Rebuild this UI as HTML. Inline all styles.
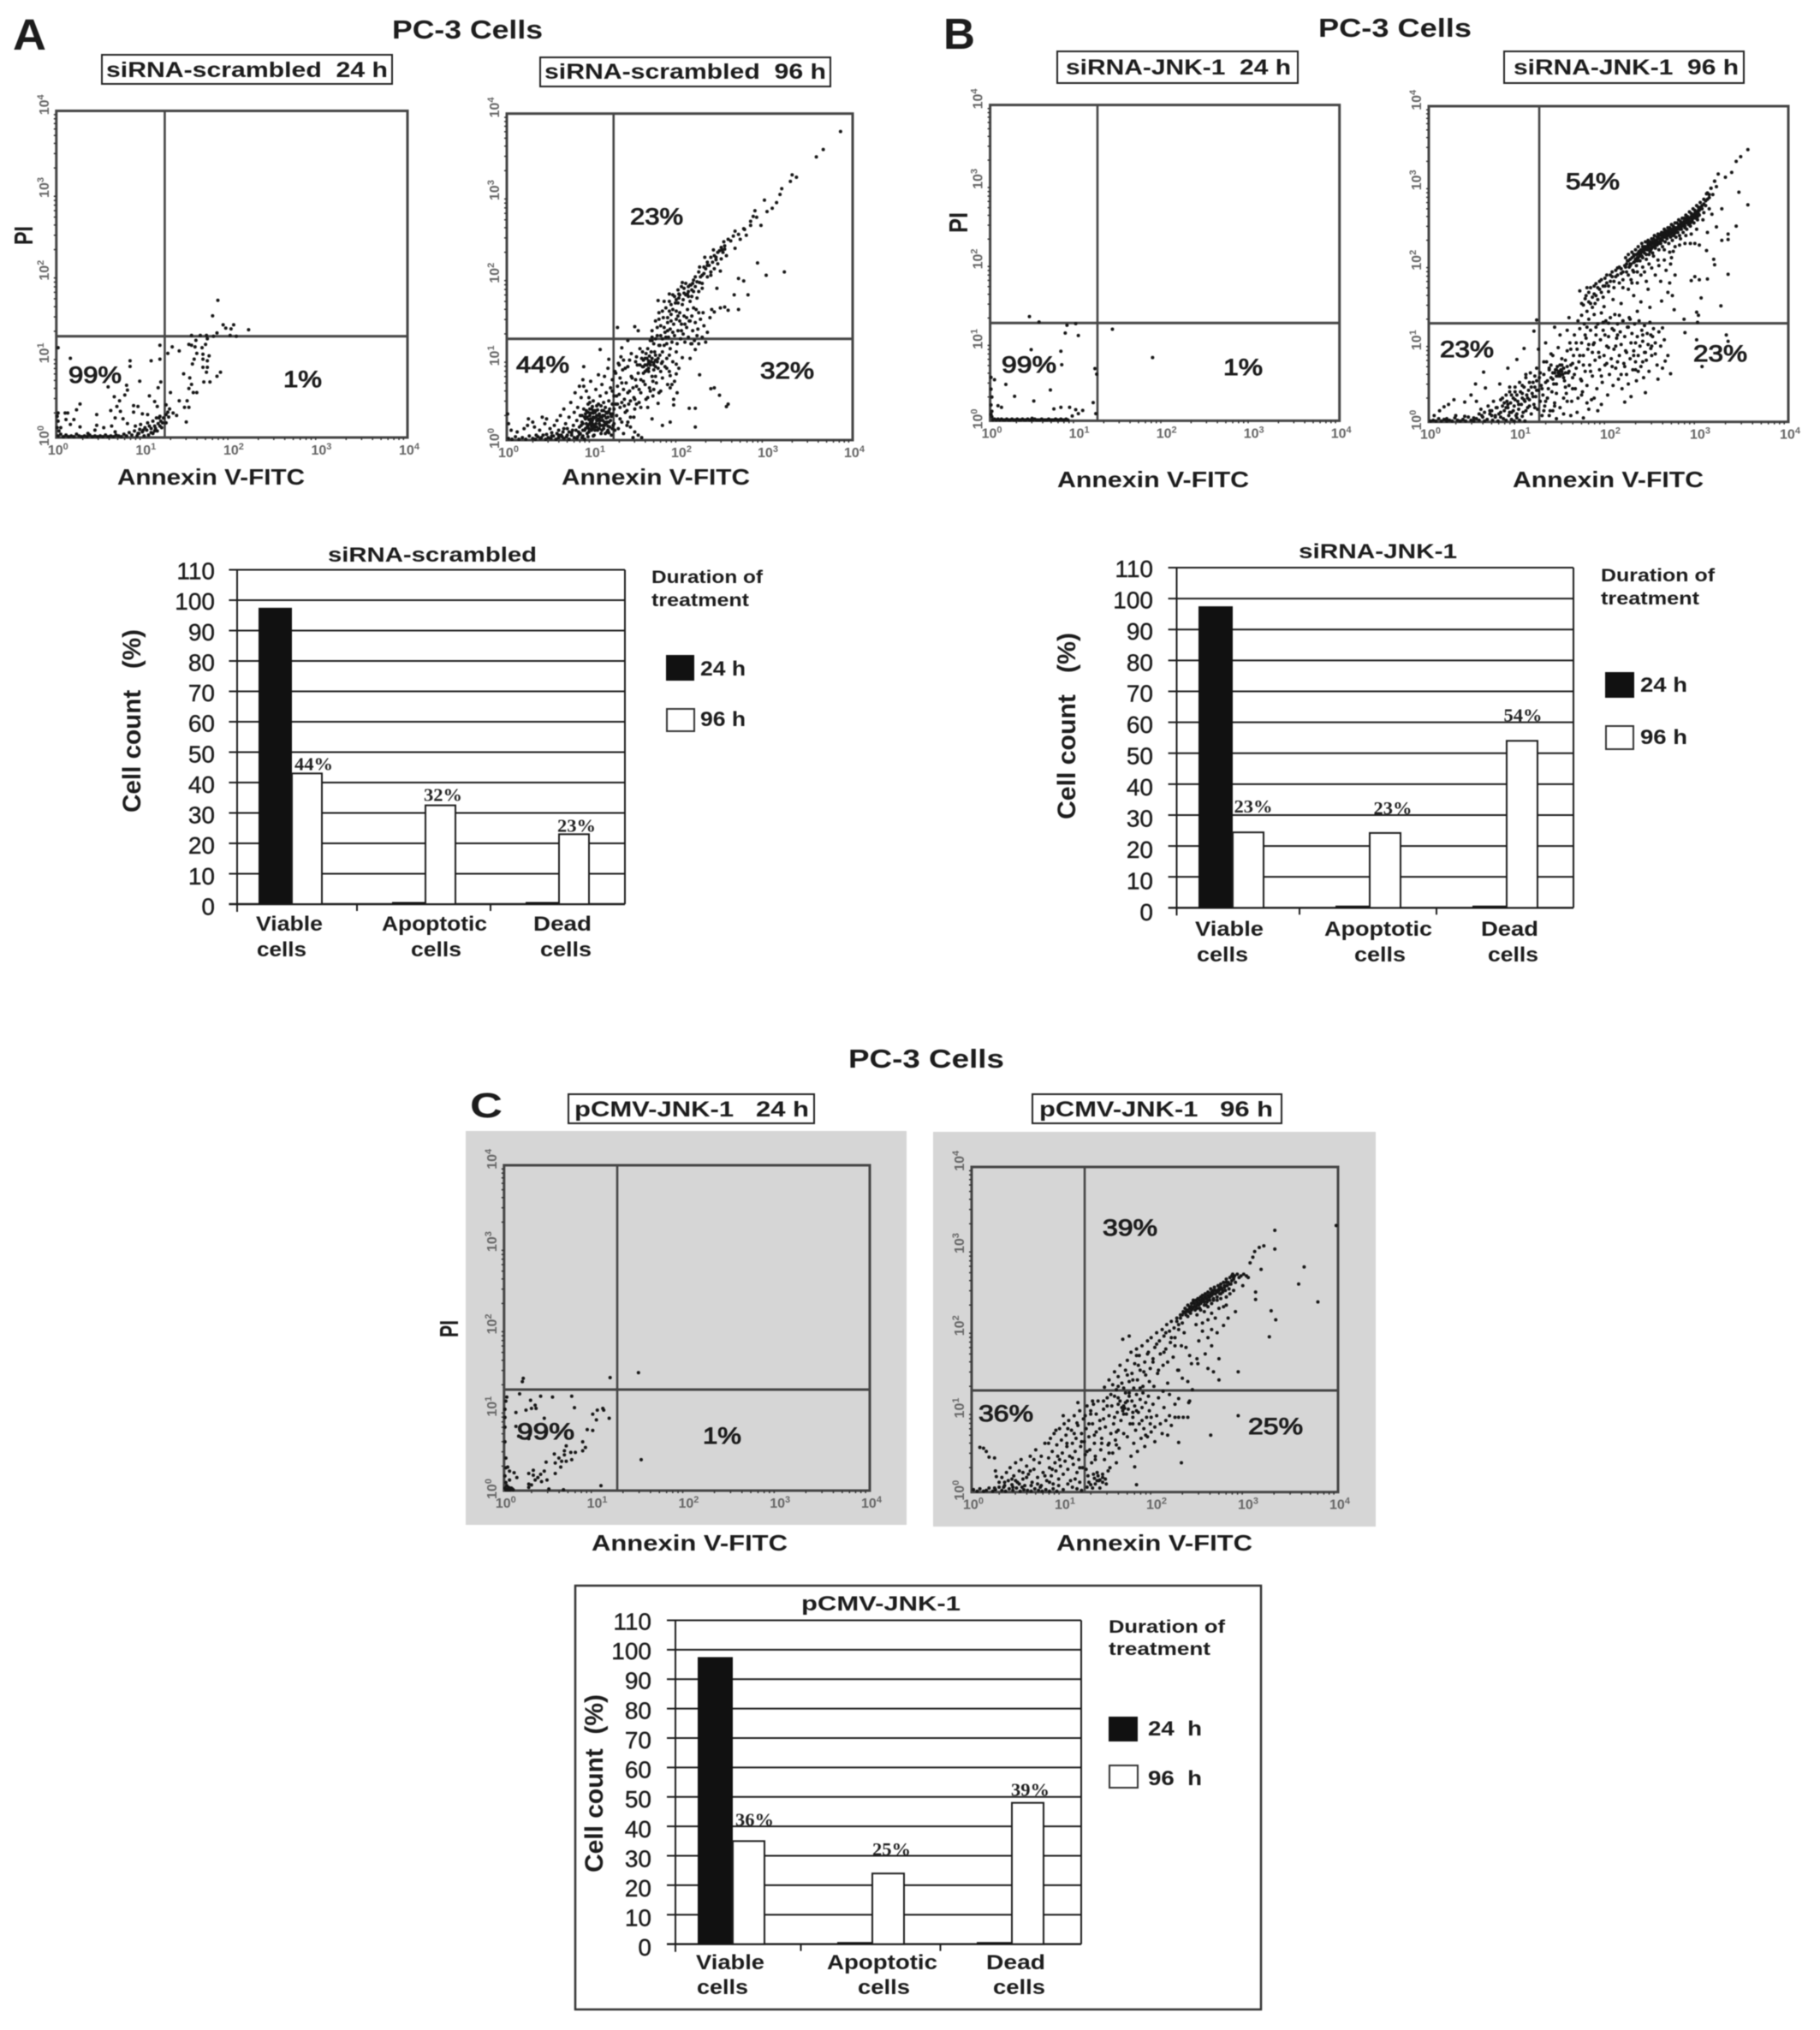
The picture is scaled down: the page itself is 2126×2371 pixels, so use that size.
<!DOCTYPE html>
<html lang="en">
<head>
<meta charset="utf-8">
<title>PC-3 Cells annexin V flow cytometry and cell count charts</title>
<style>
html,body{margin:0;padding:0;background:#fff;}
#figure{display:block;filter:blur(0.6px);}
text{font-family:"Liberation Sans",sans-serif;fill:#1c1c1c;}
.b{font-weight:bold;}
.pct{stroke:#1c1c1c;stroke-width:1px;}
.ser{font-family:"Liberation Serif",serif;font-weight:bold;fill:#222;}
.ybox{fill:#fff;stroke:#222;stroke-width:2;}
</style>
</head>
<body>
<svg id="figure" xmlns="http://www.w3.org/2000/svg" width="2126" height="2371" viewBox="0 0 2126 2371">
<rect x="0" y="0" width="2126" height="2371" fill="#fff"/>
<rect x="544" y="1321" width="515" height="460" fill="#d6d6d6"/>
<rect x="1090" y="1322" width="517" height="461" fill="#d6d6d6"/>
<rect x="672" y="1852" width="801" height="495" fill="none" stroke="#333" stroke-width="2.5"/>

<g id="plots"></g>

<!-- Panel A -->
<text class="b" x="15" y="58" font-size="51" textLength="39" lengthAdjust="spacingAndGlyphs">A</text>
<text class="b" x="458" y="45" font-size="31" textLength="176" lengthAdjust="spacingAndGlyphs">PC-3 Cells</text>
<rect class="ybox" x="119" y="64" width="339" height="34"/>
<text class="b" x="124" y="90" font-size="25" textLength="329" lengthAdjust="spacingAndGlyphs" xml:space="preserve">siRNA-scrambled  24 h</text>
<rect class="ybox" x="631" y="67" width="339" height="34"/>
<text class="b" x="636" y="92" font-size="25" textLength="329" lengthAdjust="spacingAndGlyphs" xml:space="preserve">siRNA-scrambled  96 h</text>
<text class="b" x="38" y="286" font-size="31" textLength="22" lengthAdjust="spacingAndGlyphs" transform="rotate(-90 38 286)">PI</text>
<text class="b" x="137" y="566" font-size="26" textLength="219" lengthAdjust="spacingAndGlyphs">Annexin V-FITC</text>
<text class="b" x="656" y="566" font-size="26" textLength="220" lengthAdjust="spacingAndGlyphs">Annexin V-FITC</text>
<text class="pct" x="80" y="447" font-size="27" textLength="62" lengthAdjust="spacingAndGlyphs">99%</text>
<text class="pct" x="331" y="452" font-size="27" textLength="45" lengthAdjust="spacingAndGlyphs">1%</text>
<text class="pct" x="736" y="262" font-size="27" textLength="62" lengthAdjust="spacingAndGlyphs">23%</text>
<text class="pct" x="603" y="435" font-size="27" textLength="62" lengthAdjust="spacingAndGlyphs">44%</text>
<text class="pct" x="888" y="442" font-size="27" textLength="63" lengthAdjust="spacingAndGlyphs">32%</text>

<text class="b" x="383" y="656" font-size="24" textLength="244" lengthAdjust="spacingAndGlyphs">siRNA-scrambled</text>
<text class="b" x="164" y="949" font-size="30" textLength="214" lengthAdjust="spacingAndGlyphs" transform="rotate(-90 164 949)" xml:space="preserve">Cell count   (%)</text>
<text class="b" x="761" y="681" font-size="21" textLength="130" lengthAdjust="spacingAndGlyphs">Duration of</text>
<text class="b" x="761" y="708" font-size="21" textLength="114" lengthAdjust="spacingAndGlyphs">treatment</text>
<rect x="778" y="765" width="33" height="30" fill="#111"/>
<rect x="779" y="828" width="32" height="26" fill="#fff" stroke="#333" stroke-width="2"/>
<text class="b" x="818" y="789" font-size="24" textLength="53" lengthAdjust="spacingAndGlyphs">24 h</text>
<text class="b" x="818" y="848" font-size="24" textLength="53" lengthAdjust="spacingAndGlyphs">96 h</text>

<!-- Panel B -->
<text class="b" x="1102" y="57" font-size="51" textLength="37" lengthAdjust="spacingAndGlyphs">B</text>
<text class="b" x="1540" y="43" font-size="31" textLength="179" lengthAdjust="spacingAndGlyphs">PC-3 Cells</text>
<rect class="ybox" x="1235" y="60" width="281" height="37"/>
<text class="b" x="1245" y="87" font-size="25" textLength="263" lengthAdjust="spacingAndGlyphs" xml:space="preserve">siRNA-JNK-1  24 h</text>
<rect class="ybox" x="1757" y="60" width="280" height="37"/>
<text class="b" x="1768" y="87" font-size="25" textLength="263" lengthAdjust="spacingAndGlyphs" xml:space="preserve">siRNA-JNK-1  96 h</text>
<text class="b" x="1130" y="272" font-size="31" textLength="24" lengthAdjust="spacingAndGlyphs" transform="rotate(-90 1130 272)">PI</text>
<text class="b" x="1235" y="569" font-size="26" textLength="224" lengthAdjust="spacingAndGlyphs">Annexin V-FITC</text>
<text class="b" x="1767" y="569" font-size="26" textLength="223" lengthAdjust="spacingAndGlyphs">Annexin V-FITC</text>
<text class="pct" x="1170" y="435" font-size="27" textLength="64" lengthAdjust="spacingAndGlyphs">99%</text>
<text class="pct" x="1429" y="438" font-size="27" textLength="46" lengthAdjust="spacingAndGlyphs">1%</text>
<text class="pct" x="1829" y="221" font-size="27" textLength="63" lengthAdjust="spacingAndGlyphs">54%</text>
<text class="pct" x="1682" y="417" font-size="27" textLength="63" lengthAdjust="spacingAndGlyphs">23%</text>
<text class="pct" x="1978" y="422" font-size="27" textLength="63" lengthAdjust="spacingAndGlyphs">23%</text>

<text class="b" x="1517" y="652" font-size="24" textLength="185" lengthAdjust="spacingAndGlyphs">siRNA-JNK-1</text>
<text class="b" x="1256" y="957" font-size="30" textLength="218" lengthAdjust="spacingAndGlyphs" transform="rotate(-90 1256 957)" xml:space="preserve">Cell count   (%)</text>
<text class="b" x="1870" y="679" font-size="21" textLength="133" lengthAdjust="spacingAndGlyphs">Duration of</text>
<text class="b" x="1870" y="706" font-size="21" textLength="115" lengthAdjust="spacingAndGlyphs">treatment</text>
<rect x="1875" y="785" width="34" height="30" fill="#111"/>
<rect x="1876" y="848" width="32" height="27" fill="#fff" stroke="#333" stroke-width="2"/>
<text class="b" x="1916" y="808" font-size="24" textLength="55" lengthAdjust="spacingAndGlyphs">24 h</text>
<text class="b" x="1916" y="869" font-size="24" textLength="55" lengthAdjust="spacingAndGlyphs">96 h</text>

<!-- Panel C -->
<text class="b" x="991" y="1247" font-size="31" textLength="182" lengthAdjust="spacingAndGlyphs">PC-3 Cells</text>
<text class="b" x="549" y="1305" font-size="41" textLength="38" lengthAdjust="spacingAndGlyphs">C</text>
<rect class="ybox" x="664" y="1278" width="287" height="34"/>
<text class="b" x="671" y="1304" font-size="25" textLength="274" lengthAdjust="spacingAndGlyphs" xml:space="preserve">pCMV-JNK-1   24 h</text>
<rect class="ybox" x="1206" y="1278" width="291" height="34"/>
<text class="b" x="1214" y="1304" font-size="25" textLength="273" lengthAdjust="spacingAndGlyphs" xml:space="preserve">pCMV-JNK-1   96 h</text>
<text class="b" x="535" y="1562" font-size="31" textLength="20" lengthAdjust="spacingAndGlyphs" transform="rotate(-90 535 1562)">PI</text>
<text class="b" x="691" y="1811" font-size="26" textLength="229" lengthAdjust="spacingAndGlyphs">Annexin V-FITC</text>
<text class="b" x="1234" y="1811" font-size="26" textLength="229" lengthAdjust="spacingAndGlyphs">Annexin V-FITC</text>
<text class="pct" x="604" y="1681" font-size="27" textLength="67" lengthAdjust="spacingAndGlyphs">99%</text>
<text class="pct" x="821" y="1686" font-size="27" textLength="45" lengthAdjust="spacingAndGlyphs">1%</text>
<text class="pct" x="1288" y="1443" font-size="27" textLength="64" lengthAdjust="spacingAndGlyphs">39%</text>
<text class="pct" x="1143" y="1660" font-size="27" textLength="64" lengthAdjust="spacingAndGlyphs">36%</text>
<text class="pct" x="1458" y="1675" font-size="27" textLength="64" lengthAdjust="spacingAndGlyphs">25%</text>

<text class="b" x="936" y="1881" font-size="24" textLength="186" lengthAdjust="spacingAndGlyphs">pCMV-JNK-1</text>
<text class="b" x="704" y="2187" font-size="30" textLength="208" lengthAdjust="spacingAndGlyphs" transform="rotate(-90 704 2187)" xml:space="preserve">Cell count  (%)</text>
<text class="b" x="1295" y="1907" font-size="21" textLength="136" lengthAdjust="spacingAndGlyphs">Duration of</text>
<text class="b" x="1295" y="1933" font-size="21" textLength="119" lengthAdjust="spacingAndGlyphs">treatment</text>
<rect x="1295" y="2005" width="34" height="29" fill="#111"/>
<rect x="1296" y="2062" width="33" height="26" fill="#fff" stroke="#333" stroke-width="2"/>
<text class="b" x="1341" y="2027" font-size="24" textLength="63" lengthAdjust="spacingAndGlyphs" xml:space="preserve">24  h</text>
<text class="b" x="1341" y="2085" font-size="24" textLength="63" lengthAdjust="spacingAndGlyphs" xml:space="preserve">96  h</text>
</svg>

<script>
// Flow cytometry events: [annexin, PI] in hundredths of a log10 decade (0 = 10^0, 400 = 10^4).
const a1Events = [[184,168],[178,149],[190,138],[202,138],[193,134],[199,133],[219,132],[183,128],[154,125],[164,125],[171,125],[179,124],[198,125],[205,124],[172,121],[118,113],[132,111],[151,114],[154,113],[158,111],[170,114],[166,110],[159,119],[127,103],[140,106],[160,103],[167,102],[174,100],[157,96],[167,96],[172,94],[155,90],[118,96],[108,94],[84,94],[84,87],[16,97],[2,110],[167,86],[172,86],[171,80],[187,80],[183,75],[145,78],[152,73],[168,68],[175,68],[154,65],[151,60],[156,55],[160,55],[119,68],[116,61],[95,69],[59,62],[80,64],[81,58],[78,52],[66,50],[106,51],[72,45],[130,55],[112,44],[140,45],[149,45],[146,37],[151,37],[148,19],[137,27],[133,30],[27,41],[23,34],[46,28],[69,38],[62,33],[73,32],[88,39],[93,38],[88,31],[98,29],[104,28],[115,38],[125,40],[129,35],[67,24],[76,23],[81,17],[10,30],[13,30],[2,30],[11,22],[20,22],[16,16],[27,13],[46,15],[63,14],[54,12],[36,5],[44,9],[67,7],[93,5],[98,7],[103,9],[108,11],[112,14],[116,17],[119,20],[122,24],[125,28],[127,31],[120,12],[115,8],[110,5],[105,3],[100,2],[125,18],[118,26],[128,25],[2,2],[5,4],[8,1],[11,3],[14,1],[17,2],[20,1],[23,4],[26,2],[29,1],[32,2],[35,1],[38,3],[41,1],[44,2],[47,1],[50,2],[53,1],[56,3],[59,1],[62,2],[65,1],[68,3],[71,2],[74,1],[77,4],[80,2],[83,6],[86,3],[89,8],[92,2],[95,10],[101,12],[1,12],[2,20],[1,26],[3,8],[5,12],[90,14],[96,16],[104,18],[110,20],[114,24],[108,6],[113,11],[118,14],[106,14],[112,8],[117,24],[121,18],[99,9],[94,5]];

const a2Events = [[386,378],[366,356],[358,347],[330,325],[335,322],[328,317],[318,308],[316,301],[298,294],[312,291],[307,284],[301,280],[287,281],[289,273],[294,263],[282,263],[274,259],[264,256],[277,251],[270,246],[259,244],[264,235],[251,243],[239,233],[249,233],[254,226],[242,221],[229,224],[223,212],[232,214],[236,202],[226,202],[247,207],[203,193],[213,190],[223,193],[226,186],[243,186],[209,179],[199,179],[188,179],[175,171],[2,2],[6,1],[10,4],[14,1],[18,3],[22,1],[26,5],[30,2],[33,1],[36,4],[39,2],[42,6],[45,1],[48,3],[51,2],[54,5],[57,1],[60,3],[63,6],[66,2],[69,4],[72,1],[75,6],[78,3],[81,2],[84,7],[87,3],[90,1],[1,32],[2,20],[5,12],[12,10],[20,14],[25,26],[30,22],[41,28],[24,18],[32,16],[38,12],[44,20],[46,26],[50,14],[52,9],[55,18],[58,24],[60,12],[62,30],[65,10],[66,38],[68,20],[70,14],[72,28],[74,46],[75,9],[77,18],[78,34],[79,58],[80,12],[81,24],[82,40],[84,16],[85,8],[86,52],[87,30],[88,20],[89,66],[90,12],[91,26],[92,36],[93,16],[94,44],[95,10],[96,30],[97,22],[98,38],[99,14],[100,28],[101,6],[102,34],[103,20],[104,42],[105,12],[106,26],[107,32],[108,18],[109,8],[110,36],[111,24],[112,14],[113,30],[114,40],[115,20],[116,10],[117,28],[118,35],[119,16],[120,24],[121,6],[122,32],[123,18],[124,38],[125,12],[95,25],[97,33],[99,20],[101,27],[103,36],[105,24],[107,14],[109,28],[111,18],[113,22],[115,34],[117,12],[94,18],[96,38],[98,12],[100,36],[102,16],[104,30],[84,66],[88,74],[92,60],[95,52],[97,72],[100,48],[103,62],[106,80],[108,54],[110,68],[112,46],[113,78],[115,58],[117,88],[118,48],[120,64],[122,74],[124,54],[125,84],[126,44],[128,66],[129,94],[130,56],[131,76],[132,102],[133,46],[134,86],[135,62],[108,111],[89,90],[118,99],[127,30],[129,14],[131,40],[133,22],[135,8],[136,50],[137,34],[138,70],[139,18],[140,90],[141,44],[142,60],[143,28],[144,106],[145,76],[147,52],[148,38],[149,96],[150,66],[152,82],[153,46],[154,112],[155,58],[157,90],[158,72],[160,100],[161,50],[162,86],[163,40],[164,94],[165,64],[167,108],[168,78],[169,54],[170,92],[172,98],[173,70],[175,88],[177,104],[178,60],[179,94],[180,76],[182,116],[183,90],[185,100],[186,68],[188,84],[189,112],[192,96],[194,72],[196,108],[197,58],[199,88],[158,98],[160,92],[162,100],[164,97],[166,92],[168,100],[170,95],[172,90],[165,103],[161,106],[174,96],[168,26],[180,18],[189,22],[218,16],[211,39],[218,39],[254,41],[256,44],[246,55],[236,63],[240,64],[223,80],[193,43],[193,50],[175,45],[176,58],[189,64],[191,68],[196,81],[189,79],[196,93],[203,101],[212,100],[218,111],[214,118],[166,122],[168,134],[170,118],[172,146],[174,128],[176,156],[177,116],[178,140],[180,124],[181,150],[183,132],[184,162],[185,118],[186,144],[187,126],[188,170],[189,136],[190,154],[191,120],[192,160],[193,142],[194,128],[195,168],[196,148],[197,118],[198,134],[199,174],[200,156],[201,124],[202,142],[203,166],[204,130],[205,152],[206,120],[207,178],[208,138],[209,160],[210,126],[211,146],[212,170],[213,118],[214,152],[215,134],[216,182],[217,122],[218,144],[219,160],[220,128],[221,136],[222,118],[224,148],[226,126],[228,140],[230,120],[232,132],[227,156],[235,150],[237,160],[240,157],[247,162],[252,163],[256,159],[263,178],[279,178],[268,160],[268,198],[274,195],[290,217],[300,202],[321,206],[128,138],[148,139],[152,134],[140,122],[133,113],[192,178],[196,172],[198,184],[200,178],[202,188],[205,180],[207,192],[210,176],[212,190],[214,184],[216,196],[218,188],[220,194],[222,182],[224,200],[226,192],[228,204],[230,210],[232,200],[234,214],[236,206],[238,218],[240,210],[242,224],[244,216],[246,232],[248,222],[250,230],[252,238],[143,16],[148,10],[152,6],[156,3],[140,22],[146,3]];
const a2Dense = [[83,10],[108,24],[91,32],[118,9],[99,41],[87,22],[104,16],[112,36],[95,14],[121,29],[89,38],[106,44],[116,22],[93,8],[124,20],[101,18],[85,30],[110,12],[97,26],[119,38],[92,20],[114,8],[103,28],[88,12],[122,14],[96,46],[107,20],[100,33],[117,17],[90,28],[111,30],[105,37],[98,17],[115,27],[94,34],[109,42],[120,32],[86,18],[102,12],[113,18],[99,24],[107,30],[93,28],[118,22],[104,24],[96,20],[110,28],[101,36],[116,33],[91,14],[70,6],[64,4],[58,8],[76,12],[82,4],[52,5],[46,7],[88,5],[40,3],[34,6],[94,4],[100,5],[72,10],[60,6],[66,14],[128,44],[146,64],[137,88],[155,74],[122,60],[164,84],[142,98],[171,108],[133,70],[151,92],[126,82],[160,68],[148,50],[136,42],[169,72],[157,108],[144,78],[175,100],[130,92],[153,62],[140,58],[163,112],[127,54],[178,84],[149,74],[135,98],[166,60],[158,82],[143,48],[172,78],[139,36],[131,26],[122,44],[147,28],[155,40],[163,52],[150,44],[170,62],[180,96],[185,88],[176,116],[188,104],[168,122],[180,108],[162,92],[156,100],[164,88],[170,86],[167,96],[160,84],[154,92],[172,104],[158,90],[150,102],[178,128],[190,166],[172,124],[186,150],[196,158],[182,138],[204,172],[176,148],[192,132],[208,150],[184,126],[198,168],[212,146],[188,158],[202,134],[216,162],[180,158],[194,176],[206,142],[220,174],[186,134],[200,146],[210,182],[174,138],[190,146],[198,152],[222,156],[168,126],[214,176],[182,170],[205,186],[218,200],[232,218],[244,230],[215,192],[228,212],[240,226],[252,234],[222,206],[236,224],[248,236],[210,188],[256,246],[262,250],[268,252],[275,258],[282,268],[285,274]];

const b1Events = [[45,132],[56,125],[88,121],[98,123],[140,116],[86,111],[101,108],[47,90],[81,88],[82,71],[186,80],[120,66],[122,59],[5,52],[18,46],[28,31],[69,39],[50,25],[9,19],[13,17],[73,15],[81,17],[91,17],[98,14],[106,13],[101,9],[118,23],[121,9],[94,6],[48,3],[1,55],[1,40],[2,30],[1,20],[2,12],[1,8],[2,5],[3,1],[5,2],[7,1],[9,2],[11,1],[13,2],[15,1],[17,1],[19,2],[21,1],[23,1],[25,2],[27,1],[29,1],[31,2],[33,1],[35,1],[37,2],[39,1],[41,1],[43,2],[45,1],[47,1],[49,1],[51,2],[53,1],[55,1],[57,1],[59,2],[61,1],[63,1],[65,1],[67,2],[69,1],[71,1],[73,1],[75,2],[77,1],[79,1],[81,2],[83,1],[85,1],[87,2],[89,1]];

const b2Events = [[355,345],[347,336],[342,330],[337,316],[330,310],[322,314],[318,305],[314,296],[309,289],[355,275],[345,291],[342,248],[333,238],[333,231],[326,270],[326,230],[320,247],[315,263],[310,240],[306,265],[279,224],[285,226],[291,226],[296,226],[301,224],[309,217],[317,206],[318,199],[333,187],[310,181],[301,180],[296,184],[292,179],[303,157],[325,147],[298,139],[300,135],[299,126],[284,130],[273,142],[259,153],[271,160],[266,164],[274,186],[268,176],[269,200],[272,216],[331,110],[333,102],[304,70],[285,113],[298,104],[269,61],[260,68],[255,54],[241,37],[218,25],[225,32],[233,64],[266,84],[263,77],[252,86],[260,119],[249,108],[247,93],[218,198],[219,208],[220,190],[221,204],[222,212],[223,196],[224,206],[225,200],[226,215],[227,192],[228,210],[229,203],[230,218],[231,198],[232,208],[233,222],[234,212],[235,204],[236,218],[237,226],[238,208],[239,220],[240,214],[241,228],[242,206],[243,218],[244,230],[245,212],[246,224],[247,218],[248,232],[249,214],[250,226],[251,236],[252,220],[253,230],[254,224],[255,238],[256,218],[257,232],[258,226],[259,240],[260,222],[261,234],[262,244],[263,228],[264,238],[265,232],[266,246],[267,226],[268,240],[269,234],[270,250],[271,230],[272,244],[273,238],[274,252],[275,234],[276,246],[277,240],[278,256],[279,236],[280,250],[281,244],[282,258],[283,240],[284,254],[285,248],[286,262],[287,244],[288,256],[289,250],[290,266],[291,248],[292,260],[293,254],[294,270],[295,252],[296,264],[297,258],[298,274],[299,256],[300,268],[301,262],[302,278],[304,270],[306,282],[308,274],[310,290],[312,284],[314,296],[316,288],[318,305],[320,298],[236,210],[238,216],[240,222],[242,220],[244,224],[246,228],[248,226],[250,232],[252,230],[254,234],[256,236],[258,238],[260,236],[262,240],[264,242],[266,240],[268,246],[270,244],[272,248],[274,246],[276,252],[278,250],[280,254],[282,252],[284,258],[286,256],[288,260],[290,258],[292,264],[294,262],[296,268],[298,266],[300,272],[233,208],[228,202],[224,198],[225,180],[232,190],[238,196],[245,200],[250,210],[255,205],[262,218],[268,215],[274,222],[280,232],[286,236],[292,238],[298,244],[305,256],[312,270],[240,190],[248,195],[256,198],[262,205],[270,208],[232,176],[242,178],[252,186],[258,178],[264,192],[172,148],[175,160],[178,152],[180,170],[182,145],[184,162],[186,175],[188,155],[190,168],[192,180],[194,158],[196,172],[198,186],[200,165],[202,178],[204,190],[206,170],[208,184],[210,195],[212,176],[214,188],[216,170],[170,135],[168,166],[176,140],[185,150],[195,146],[205,155],[214,150],[222,168],[228,160],[236,152],[244,168],[232,140],[246,145],[224,130],[212,135],[200,125],[6,8],[12,14],[17,19],[22,22],[28,28],[40,25],[52,48],[61,63],[63,43],[47,34],[53,26],[79,48],[88,68],[106,93],[117,115],[120,129],[98,79],[2,1],[5,2],[8,1],[11,4],[14,1],[17,3],[20,1],[23,2],[26,1],[29,5],[32,2],[35,1],[38,3],[41,1],[44,6],[47,2],[50,1],[53,4],[56,2],[59,8],[62,1],[65,3],[68,10],[71,2],[74,6],[77,1],[80,12],[83,4],[86,2],[89,8],[92,3],[95,1],[98,5],[101,2],[104,7],[107,1],[58,16],[62,12],[66,20],[70,14],[72,26],[75,18],[78,10],[80,28],[82,20],[84,14],[86,34],[87,26],[88,18],[90,38],[91,24],[92,12],[94,30],[95,20],[96,44],[97,8],[98,34],[99,26],[100,16],[101,50],[102,38],[103,22],[104,30],[105,12],[106,44],[107,26],[108,56],[109,34],[110,18],[111,40],[112,28],[113,62],[114,10],[115,36],[116,50],[117,22],[118,44],[119,32],[120,68],[121,16],[122,40],[123,56],[124,26],[125,46],[126,8],[127,34],[128,60],[129,20],[130,50],[131,76],[132,30],[133,42],[134,66],[135,14],[136,56],[137,38],[138,84],[139,48],[140,24],[141,66],[142,58],[143,70],[144,62],[145,64],[146,58],[147,66],[148,72],[149,60],[150,68],[151,52],[152,78],[153,36],[154,90],[155,62],[156,46],[157,100],[158,72],[159,26],[160,56],[161,84],[162,110],[163,42],[164,68],[165,92],[166,30],[167,76],[168,118],[169,54],[170,100],[171,38],[172,84],[173,124],[174,64],[175,106],[176,46],[177,92],[178,130],[179,72],[180,116],[181,28],[182,58],[183,98],[184,136],[185,78],[186,110],[187,42],[188,124],[189,88],[190,66],[191,104],[192,138],[193,50],[194,116],[195,84],[196,72],[197,128],[198,96],[199,34],[200,108],[201,60],[202,132],[203,80],[204,118],[205,46],[206,92],[207,136],[208,68],[209,106],[210,124],[211,54],[212,84],[213,114],[214,98],[215,42],[216,128],[217,74],[218,108],[219,90],[220,60],[221,120],[222,48],[223,132],[224,80],[225,100],[226,112],[227,66],[228,90],[229,124],[230,76],[231,52],[232,108],[233,84],[234,128],[235,96],[236,70],[237,116],[238,102],[239,56],[240,122],[241,88],[242,78],[243,112],[244,98],[245,64],[246,126],[247,110],[248,84],[250,118],[252,100],[254,72],[256,114],[258,96],[262,104],[130,26],[134,8],[138,14],[142,4],[146,18],[150,10],[154,26],[158,8],[165,12],[172,5],[178,16],[188,14],[176,24],[184,30],[192,22]];
const b2Dense = [[222,204],[238,222],[256,226],[274,242],[292,258],[230,206],[248,220],[266,236],[284,250],[302,270],[240,218],[258,232],[276,244],[294,258],[226,208],[244,226],[262,234],[280,246],[298,262],[234,216],[252,224],[270,240],[288,252],[306,276],[220,200],[236,214],[254,228],[272,236],[290,254],[308,280],[242,212],[260,230],[278,248],[296,260],[228,212],[246,216],[264,234],[282,248],[300,264],[232,204],[250,222],[268,238],[286,252],[304,274],[224,200],[241,222],[259,236],[277,246],[295,262],[235,212],[253,226],[271,242],[289,254],[310,282],[247,224],[265,238],[283,252],[301,268],[239,218],[257,228],[275,240],[293,256],[312,288],[231,212],[249,228],[267,242],[285,246],[303,272],[243,222],[261,238],[279,244],[297,264],[255,232],[273,240],[291,252],[237,210],[251,226],[269,238],[287,258],[263,236],[281,248],[299,260],[245,220],[233,214],[180,150],[188,170],[196,182],[204,184],[192,164],[208,192],[174,156],[184,172],[200,172],[212,196],[216,190],[178,164],[190,178],[198,176],[206,178],[214,194],[186,160],[194,172],[202,186],[210,186],[170,150],[176,170],[182,158],[219,196],[222,186],[228,190],[216,180],[226,176],[236,186],[120,40],[108,60],[132,52],[146,72],[156,64],[138,62],[128,76],[118,58],[150,56],[160,74],[142,48],[134,68],[126,42],[112,50],[104,36],[96,28],[88,22],[116,32],[124,62],[148,80],[158,92],[168,84],[178,98],[190,82],[200,94],[210,76],[220,88],[180,64],[170,52],[192,58],[204,70],[214,60],[196,110],[186,120],[174,110],[164,100],[154,116],[144,94],[136,86],[130,100],[122,92],[182,88],[172,72],[162,60],[152,44],[142,36],[132,30],[176,120],[166,128],[156,132],[146,110],[140,120],[210,110],[222,120],[230,100],[238,110],[228,84],[238,76],[248,96],[216,128],[206,116],[194,126],[184,100],[198,74],[208,96],[218,70],[230,66],[240,88],[150,30],[160,42],[170,34],[140,20],[128,14],[118,18],[108,14],[98,10],[148,64],[144,58],[150,68],[142,66],[146,60],[152,62],[140,62],[138,54],[154,70],[136,72],[60,6],[70,8],[80,6],[90,12],[76,18],[84,24],[94,14],[100,22],[106,28],[112,20],[92,34],[86,18],[96,38],[104,46],[110,30],[68,14],[74,8],[50,5],[56,10],[40,7],[30,8],[20,4],[82,30],[90,44],[114,44],[120,52]];

const c1Events = [[21,138],[20,134],[116,139],[147,145],[3,115],[17,119],[29,111],[40,116],[53,115],[74,116],[34,105],[35,101],[30,101],[24,99],[13,96],[77,102],[44,89],[102,99],[108,101],[109,99],[97,94],[101,87],[115,89],[91,75],[97,74],[13,79],[16,67],[27,64],[68,55],[86,60],[89,53],[86,49],[66,49],[66,44],[73,47],[78,47],[55,45],[60,40],[63,36],[68,36],[74,38],[46,35],[56,34],[62,29],[56,21],[44,24],[32,25],[27,21],[32,19],[37,16],[40,20],[34,13],[41,11],[47,13],[4,29],[6,24],[11,22],[6,13],[14,16],[27,8],[30,7],[27,4],[49,2],[65,1],[106,6],[150,38],[1,100],[2,110],[1,60],[1,78],[1,90],[2,28],[1,18],[2,40],[2,10],[2,1],[4,2],[5,4],[7,1],[8,3],[10,1],[3,6],[6,2],[1,3],[3,1],[5,1],[7,3],[9,2]];

const c2Events = [[331,322],[331,299],[398,328],[363,277],[357,256],[378,234],[327,223],[332,212],[325,191],[316,274],[310,246],[310,237],[319,303],[314,301],[309,296],[307,289],[304,282],[302,264],[296,254],[291,148],[291,94],[261,70],[229,36],[226,61],[180,9],[178,31],[232,221],[233,226],[234,218],[235,224],[236,230],[237,222],[238,228],[239,220],[240,232],[241,226],[242,234],[243,228],[244,224],[245,236],[246,230],[247,238],[248,232],[249,226],[250,240],[251,234],[252,242],[253,236],[254,230],[255,244],[256,238],[257,234],[258,246],[259,240],[260,236],[261,250],[262,242],[263,246],[264,238],[265,252],[266,244],[267,248],[268,240],[269,254],[270,248],[271,244],[272,256],[273,250],[274,246],[275,258],[276,252],[277,248],[278,262],[279,254],[280,258],[281,250],[282,264],[283,256],[284,260],[285,268],[286,262],[287,266],[288,258],[290,268],[292,264],[294,266],[297,268],[300,266],[240,228],[243,232],[246,234],[249,236],[252,238],[255,240],[258,242],[261,244],[264,248],[246,218],[250,224],[254,222],[258,228],[262,232],[268,236],[272,238],[278,240],[282,244],[286,248],[262,220],[270,226],[278,230],[252,208],[258,212],[266,214],[245,206],[252,198],[258,190],[248,186],[262,200],[268,196],[275,205],[280,214],[288,222],[275,228],[262,180],[255,170],[270,164],[258,152],[246,164],[238,168],[234,178],[240,158],[230,140],[226,150],[236,136],[241,126],[247,158],[264,148],[270,138],[165,188],[172,192],[145,129],[150,138],[154,132],[156,148],[158,126],[160,142],[162,156],[164,134],[166,128],[168,150],[170,162],[172,136],[174,172],[175,146],[177,128],[178,158],[180,176],[181,138],[183,168],[184,150],[186,180],[187,130],[189,160],[190,144],[192,186],[193,172],[195,152],[196,190],[198,164],[199,130],[200,178],[202,196],[203,146],[205,186],[206,170],[208,200],[209,156],[210,192],[212,176],[213,206],[214,134],[216,198],[217,184],[218,210],[220,166],[221,202],[222,190],[224,214],[225,150],[226,200],[228,218],[229,180],[230,208],[231,222],[232,196],[2,3],[6,1],[9,4],[13,1],[16,2],[19,5],[23,1],[26,3],[30,6],[33,2],[37,1],[41,4],[45,2],[49,5],[53,1],[57,3],[61,2],[65,1],[69,4],[73,2],[77,1],[81,3],[85,1],[89,4],[93,1],[9,55],[13,54],[16,50],[19,43],[25,42],[26,26],[27,19],[30,12],[33,18],[36,8],[38,24],[40,14],[42,30],[44,9],[46,20],[48,36],[50,12],[52,26],[54,40],[56,16],[58,8],[60,32],[62,22],[64,44],[66,12],[68,28],[70,52],[72,18],[74,36],[76,8],[78,24],[80,60],[82,14],[84,42],[85,30],[86,66],[87,20],[88,50],[89,10],[90,72],[91,36],[92,26],[93,58],[94,44],[95,16],[96,78],[97,32],[98,64],[99,48],[100,22],[101,84],[102,38],[103,70],[104,56],[105,28],[106,88],[107,44],[108,14],[109,76],[110,60],[111,34],[112,94],[113,50],[114,66],[115,24],[116,82],[117,40],[118,100],[119,56],[120,72],[121,30],[122,90],[123,62],[124,46],[125,78],[126,106],[127,20],[128,68],[129,52],[130,96],[131,36],[132,84],[133,108],[134,60],[135,44],[136,74],[137,24],[138,112],[139,14],[140,88],[141,52],[142,66],[143,18],[144,102],[145,40],[146,80],[147,10],[148,116],[149,58],[150,94],[151,30],[152,72],[153,106],[154,48],[155,84],[156,118],[157,64],[158,36],[159,98],[160,76],[161,54],[162,112],[163,88],[164,104],[165,100],[166,106],[167,103],[168,110],[169,96],[170,68],[171,102],[172,122],[173,84],[174,44],[175,112],[176,92],[177,60],[178,106],[179,76],[180,120],[181,50],[182,98],[183,84],[184,114],[185,66],[186,104],[187,122],[188,78],[189,56],[190,110],[191,92],[192,68],[193,118],[194,100],[195,84],[196,74],[198,108],[200,62],[202,94],[204,116],[206,84],[208,72],[210,104],[212,88],[214,70],[216,94],[218,82],[222,92],[226,92],[231,92],[236,92],[237,110],[238,112],[222,108],[226,115],[209,124],[216,120],[140,5],[137,14],[134,17],[130,9],[143,22],[126,6],[146,16],[149,26],[132,5],[110,6],[115,4],[118,12],[100,3],[120,2]];
const c2Dense = [[240,224],[256,238],[272,252],[286,264],[234,222],[250,232],[264,244],[278,258],[244,228],[260,240],[274,248],[238,226],[254,234],[268,246],[282,256],[248,230],[262,246],[276,254],[242,236],[258,236],[270,250],[284,266],[252,236],[266,248],[246,226],[236,216],[256,230],[264,236],[272,244],[228,214],[224,210],[230,218],[150,60],[158,74],[166,96],[160,108],[170,112],[176,98],[156,92],[144,90],[136,96],[128,84],[120,62],[112,72],[104,60],[96,40],[88,28],[80,20],[72,10],[64,26],[56,24],[48,14],[110,42],[118,30],[126,50],[134,70],[142,60],[150,48],[140,78],[148,106],[132,112],[124,94],[116,110],[100,94],[92,76],[84,60],[76,44],[68,40],[60,18],[52,10],[44,16],[36,12],[158,58],[166,72],[176,84],[186,88],[196,92],[190,70],[200,80],[180,100],[172,118],[184,128],[194,136],[204,150],[214,160],[222,180],[176,138],[188,148],[198,160],[210,172],[218,190],[226,206],[160,130],[170,144],[182,156],[192,170],[202,182],[212,196],[168,122],[180,168],[144,112],[152,120],[160,116],[130,100],[115,85],[105,78],[135,40],[125,28],[113,16],[105,10],[95,8],[85,12],[75,6],[65,8],[55,6],[45,6],[35,6],[25,5],[140,15],[135,10],[138,20],[143,12],[133,22],[128,12]];

// Bar chart data.
const barCategoriesTop = ["Viable","Apoptotic","Dead"];
const barCategoriesBottom = ["cells","cells","cells"];
const percentTicks = [0,10,20,30,40,50,60,70,80,90,100,110];
const decadeExponents = [0,1,2,3,4];

const chartA24h = [97.5,0.7,0.7];
const chartA96h = [43,32.5,23];
const chartAPrinted = ["44%","32%","23%"];

const chartB24h = [97.5,0.7,0.7];
const chartB96h = [24.4,24.2,54];
const chartBPrinted = ["23%","23%","54%"];

const chartC24h = [97.5,0.7,0.7];
const chartC96h = [35,24,48];
const chartCPrinted = ["36%","25%","39%"];

const NS = 'http://www.w3.org/2000/svg';
const plots = document.getElementById('plots');
const pow2to9 = [2,3,4,5,6,7,8,9];

function svgEl(tag, parent, name, attrs) {
  const el = document.createElementNS(NS, tag);
  
  
  for (const k in attrs) el.setAttribute(k, attrs[k]);
  parent.appendChild(el);
  return el;
}

function drawFlow(id, box, gateAnnexin, gatePI, events) {
  const g = svgEl('g', plots, id + '-flow-plot', {});
  const x = v => box.l + v / 400 * (box.r - box.l);
  const y = v => box.b - v / 400 * (box.b - box.t);
  const frame = '#454545';
  svgEl('line', g, id + '-gate-vertical', {x1:x(gateAnnexin*100), x2:x(gateAnnexin*100), y1:box.t, y2:box.b, stroke:frame, 'stroke-width':2.6});
  svgEl('line', g, id + '-gate-horizontal', {x1:box.l, x2:box.r, y1:y(gatePI*100), y2:y(gatePI*100), stroke:frame, 'stroke-width':3});
  svgEl('rect', g, id + '-plot-frame', {x:box.l, y:box.t, width:box.r-box.l, height:box.b-box.t, fill:'none', stroke:frame, 'stroke-width':3});
  decadeExponents.forEach(function (e) {
    const xt = svgEl('text', g, id + '-x-tick-label', {x:x(e*100)+2, y:box.b+20, 'font-size':16, 'font-weight':'bold', 'text-anchor':'middle', style:'fill:#666'});
    xt.textContent = '10';
    const xs = svgEl('tspan', xt, id + '-x-tick-exponent', {dy:-6, 'font-size':11});
    xs.textContent = String(e);
    const ty = y(e*100) - 2 - e*1.3;
    const yt = svgEl('text', g, id + '-y-tick-label', {x:box.l-9, y:ty, 'font-size':16, 'font-weight':'bold', 'text-anchor':'middle', transform:'rotate(-90 '+(box.l-9)+' '+ty+')', style:'fill:#666'});
    yt.textContent = '10';
    const ys = svgEl('tspan', yt, id + '-y-tick-exponent', {dy:-6, 'font-size':11});
    ys.textContent = String(e);
    if (e < 4) {
      pow2to9.forEach(function (m) {
        const d = (e + Math.log10(m)) * 100;
        svgEl('line', g, id + '-x-minor-tick', {x1:x(d), x2:x(d), y1:box.b, y2:box.b+3, stroke:'#333', 'stroke-width':1.5});
        svgEl('line', g, id + '-y-minor-tick', {x1:box.l-3, x2:box.l, y1:y(d), y2:y(d), stroke:'#333', 'stroke-width':1.5});
      });
    }
  });
  events.forEach(function (ev) {
    svgEl('circle', g, id + '-event-dot', {cx:x(ev[0]), cy:y(ev[1]), r:2, fill:'#161616'});
  });
}

function drawBars(id, box, values24, values96, printed, layout) {
  const g = svgEl('g', plots, id + '-bar-chart', {});
  const y = v => box.b - v / 110 * (box.b - box.t);
  const center = i => layout.first + i * layout.step;
  const ink = '#1c1c1c';
  percentTicks.forEach(function (t) {
    svgEl('line', g, id + '-gridline', {x1:layout.tickStart, x2:box.r, y1:y(t), y2:y(t), stroke:ink, 'stroke-width':t===0?2.4:2});
    const lab = svgEl('text', g, id + '-y-tick-label', {x:layout.tickRight, y:y(t)+11+(110-t)/110*layout.labelDrift, 'font-size':28, 'text-anchor':'end', 'stroke':ink, 'stroke-width':.4});
    lab.textContent = String(t);
  });
  svgEl('line', g, id + '-y-axis', {x1:box.l, x2:box.l, y1:box.t, y2:box.b+9, stroke:ink, 'stroke-width':2});
  svgEl('line', g, id + '-right-border', {x1:box.r, x2:box.r, y1:box.t, y2:box.b, stroke:ink, 'stroke-width':2});
  [1,2].forEach(function (i) {
    const tx = center(i-1) + layout.step/2 - 2;
    svgEl('line', g, id + '-x-tick', {x1:tx, x2:tx, y1:box.b, y2:box.b+8, stroke:ink, 'stroke-width':2});
  });
  barCategoriesTop.forEach(function (c, i) {
    const c0 = center(i);
    svgEl('rect', g, id + '-bar-' + c.toLowerCase() + '-24h', {x:c0-layout.w24, y:y(values24[i]), width:layout.w24, height:box.b-y(values24[i]), fill:'#111'});
    svgEl('rect', g, id + '-bar-' + c.toLowerCase() + '-96h', {x:c0, y:y(values96[i]), width:layout.w96, height:box.b-y(values96[i]), fill:'#fff', stroke:ink, 'stroke-width':2});
    const nudge = layout.nudge[i];
    const v = svgEl('text', g, id + '-value-label-' + c.toLowerCase(), {x:c0+layout.w96/2+nudge[0], y:y(values96[i])+nudge[1], 'font-size':21, 'text-anchor':'middle', class:'ser', textLength:45, lengthAdjust:'spacingAndGlyphs'});
    v.textContent = printed[i];
    const p = layout.cats[i];
    const t1 = svgEl('text', g, id + '-category-label-' + c.toLowerCase(), {x:p[0], y:layout.catY1, 'font-size':24, class:'b', textLength:p[1], lengthAdjust:'spacingAndGlyphs'});
    t1.textContent = c;
    const t2 = svgEl('text', g, id + '-category-sublabel-' + c.toLowerCase(), {x:p[2], y:layout.catY2, 'font-size':24, class:'b', textLength:p[3], lengthAdjust:'spacingAndGlyphs'});
    t2.textContent = barCategoriesBottom[i];
  });
}

drawFlow('a1', {l:65.8,r:476,t:129.5,b:511}, 1.235, 1.24, a1Events);
drawFlow('a2', {l:592,r:996,t:132.7,b:514}, 1.235, 1.24, a2Events.concat(a2Dense));
drawFlow('b1', {l:1156.6,r:1564.7,t:122.6,b:491.4}, 1.229, 1.238, b1Events);
drawFlow('b2', {l:1669,r:2089,t:124,b:492.7}, 1.229, 1.248, b2Events.concat(b2Dense));
drawFlow('c1', {l:588.8,r:1016,t:1361,b:1741}, 1.238, 1.242, c1Events);
drawFlow('c2', {l:1135,r:1563,t:1363,b:1742.7}, 1.234, 1.25, c2Events.concat(c2Dense));

drawBars('chart-a', {l:277,r:730,t:665.5,b:1056}, chartA24h, chartA96h, chartAPrinted,
  {first:341,step:156,w24:39,w96:35,tickStart:267.4,tickRight:251,catY1:1087,catY2:1117,labelDrift:1.5,
   nudge:[[8,-4],[3,-5],[3,-3]],
   cats:[[299,78,300,58],[446,123,480,59],[623,68,631,60]]});
drawBars('chart-b', {l:1374.5,r:1838,t:663,b:1060.3}, chartB24h, chartB96h, chartBPrinted,
  {first:1440,step:160,w24:40,w96:36,tickStart:1364.6,tickRight:1347,catY1:1093,catY2:1123,labelDrift:3.5,
   nudge:[[6,-23],[9,-22],[1,-23]],
   cats:[[1396,80,1398,60],[1547,126,1582,60],[1730,67,1738,59]]});
drawBars('chart-c', {l:789,r:1263,t:1892.5,b:2270.7}, chartC24h, chartC96h, chartCPrinted,
  {first:856,step:163,w24:41,w96:37,tickStart:779,tickRight:761,catY1:2300,catY2:2329,labelDrift:2.5,
   nudge:[[7,-18],[4,-21],[3,-8]],
   cats:[[813,80,814,60],[966,129,1002,61],[1152,69,1160,61]]});
</script>
</body>
</html>
